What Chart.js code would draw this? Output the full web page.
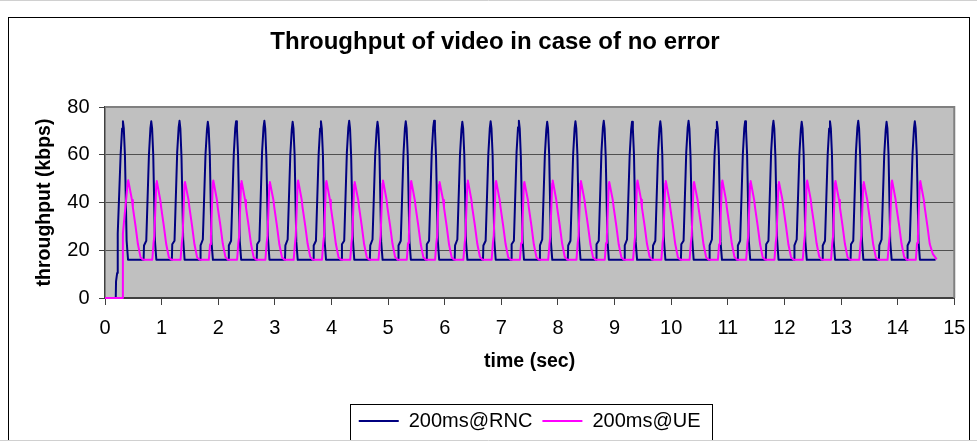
<!DOCTYPE html>
<html>
<head>
<meta charset="utf-8">
<script src="https://cdn.jsdelivr.net/npm/chart.js@4.4.1/dist/chart.umd.min.js"></script>
<style>
  html, body { margin: 0; padding: 0; background: #fff; overflow: hidden; }
  #wrap { width: 977px; height: 441px; overflow: hidden; position: relative; }
  canvas { display: block; }
</style>
</head>
<body>
<div id="wrap"><canvas id="c" width="977" height="470"></canvas></div>
<script>
const chartTitle = 'Throughput of video in case of no error';
const xTitle = 'time (sec)';
const yTitle = 'throughput (kbps)';
const seriesNames = ['200ms@RNC', '200ms@UE'];
const xTicks = { min: 0, max: 15, step: 1 };
const yTicks = { min: 0, max: 80, step: 20 };

// 200ms@RNC : time (s)
const rncTime = [
  0, 0.19, 0.195, 0.215, 0.225, 0.276, 0.302, 0.317, 0.332, 0.352, 0.382, 0.407,
  0.682, 0.689, 0.729, 0.776, 0.802, 0.817, 0.832, 0.852, 0.882, 0.907,
  1.181, 1.188, 1.228, 1.275, 1.301, 1.316, 1.331, 1.351, 1.381, 1.406,
  1.681, 1.688, 1.728, 1.775, 1.801, 1.816, 1.831, 1.851, 1.881, 1.906,
  2.18, 2.187, 2.227, 2.274, 2.3, 2.315, 2.33, 2.35, 2.38, 2.405,
  2.68, 2.687, 2.727, 2.774, 2.8, 2.815, 2.83, 2.85, 2.88, 2.905,
  3.179, 3.186, 3.226, 3.273, 3.299, 3.314, 3.329, 3.349, 3.379, 3.404,
  3.679, 3.686, 3.726, 3.773, 3.799, 3.814, 3.829, 3.849, 3.879, 3.904,
  4.178, 4.185, 4.225, 4.272, 4.298, 4.313, 4.328, 4.348, 4.378, 4.403,
  4.678, 4.685, 4.725, 4.772, 4.798, 4.813, 4.828, 4.848, 4.878, 4.903,
  5.177, 5.184, 5.224, 5.271, 5.297, 5.312, 5.327, 5.347, 5.377, 5.402,
  5.677, 5.684, 5.724, 5.771, 5.797, 5.812, 5.827, 5.847, 5.877, 5.902,
  6.176, 6.183, 6.223, 6.27, 6.296, 6.311, 6.326, 6.346, 6.376, 6.401,
  6.676, 6.683, 6.723, 6.77, 6.796, 6.811, 6.826, 6.846, 6.876, 6.901,
  7.175, 7.182, 7.222, 7.269, 7.295, 7.31, 7.325, 7.345, 7.375, 7.4,
  7.675, 7.682, 7.722, 7.769, 7.795, 7.81, 7.825, 7.845, 7.875, 7.9,
  8.174, 8.181, 8.221, 8.268, 8.294, 8.309, 8.324, 8.344, 8.374, 8.399,
  8.674, 8.681, 8.721, 8.768, 8.794, 8.809, 8.824, 8.844, 8.874, 8.899,
  9.173, 9.18, 9.22, 9.267, 9.293, 9.308, 9.323, 9.343, 9.373, 9.398,
  9.673, 9.68, 9.72, 9.767, 9.793, 9.808, 9.823, 9.843, 9.873, 9.898,
  10.172, 10.179, 10.219, 10.266, 10.292, 10.307, 10.322, 10.342, 10.372, 10.397,
  10.672, 10.679, 10.719, 10.766, 10.792, 10.807, 10.822, 10.842, 10.872, 10.897,
  11.171, 11.178, 11.218, 11.265, 11.291, 11.306, 11.321, 11.341, 11.371, 11.396,
  11.671, 11.678, 11.718, 11.765, 11.791, 11.806, 11.821, 11.841, 11.871, 11.896,
  12.17, 12.177, 12.217, 12.264, 12.29, 12.305, 12.32, 12.34, 12.37, 12.395,
  12.67, 12.677, 12.717, 12.764, 12.79, 12.805, 12.82, 12.84, 12.87, 12.895,
  13.169, 13.176, 13.216, 13.263, 13.289, 13.304, 13.319, 13.339, 13.369, 13.394,
  13.669, 13.676, 13.716, 13.763, 13.789, 13.804, 13.819, 13.839, 13.869, 13.894,
  14.168, 14.175, 14.215, 14.262, 14.288, 14.303, 14.318, 14.338, 14.368, 14.393,
  14.67
];
// 200ms@RNC : throughput (kbps)
const rncValue = [
  0, 0, 7, 10.5, 27, 60, 71, 74, 71, 60, 24, 16,
  16, 22, 24, 60, 71, 74, 71, 60, 24, 16,
  16, 22.5, 24, 61, 71.5, 74.2, 71, 59, 24.5, 16,
  16, 22, 24.5, 60, 70.5, 73.8, 71, 60, 23.5, 16,
  16, 22, 24, 60, 71, 74, 71, 60, 24, 16,
  16, 22.5, 24, 61, 71.5, 74.2, 71, 59, 24.5, 16,
  16, 22, 24.5, 60, 70.5, 73.8, 71, 60, 23.5, 16,
  16, 22, 24, 60, 71, 74, 71, 60, 24, 16,
  16, 22.5, 24, 61, 71.5, 74.2, 71, 59, 24.5, 16,
  16, 22, 24.5, 60, 70.5, 73.8, 71, 60, 23.5, 16,
  16, 22, 24, 60, 71, 74, 71, 60, 24, 16,
  16, 22.5, 24, 61, 71.5, 74.2, 71, 59, 24.5, 16,
  16, 22, 24.5, 60, 70.5, 73.8, 71, 60, 23.5, 16,
  16, 22, 24, 60, 71, 74, 71, 60, 24, 16,
  16, 22.5, 24, 61, 71.5, 74.2, 71, 59, 24.5, 16,
  16, 22, 24.5, 60, 70.5, 73.8, 71, 60, 23.5, 16,
  16, 22, 24, 60, 71, 74, 71, 60, 24, 16,
  16, 22.5, 24, 61, 71.5, 74.2, 71, 59, 24.5, 16,
  16, 22, 24.5, 60, 70.5, 73.8, 71, 60, 23.5, 16,
  16, 22, 24, 60, 71, 74, 71, 60, 24, 16,
  16, 22.5, 24, 61, 71.5, 74.2, 71, 59, 24.5, 16,
  16, 22, 24.5, 60, 70.5, 73.8, 71, 60, 23.5, 16,
  16, 22, 24, 60, 71, 74, 71, 60, 24, 16,
  16, 22.5, 24, 61, 71.5, 74.2, 71, 59, 24.5, 16,
  16, 22, 24.5, 60, 70.5, 73.8, 71, 60, 23.5, 16,
  16, 22, 24, 60, 71, 74, 71, 60, 24, 16,
  16, 22.5, 24, 61, 71.5, 74.2, 71, 59, 24.5, 16,
  16, 22, 24.5, 60, 70.5, 73.8, 71, 60, 23.5, 16,
  16, 22, 24, 60, 71, 74, 71, 60, 24, 16,
  16
];

// 200ms@UE : time (s)
const ueTime = [
  0, 0.31, 0.316, 0.4, 0.41, 0.477, 0.492, 0.54, 0.581, 0.628, 0.674,
  0.835, 0.857, 0.872, 0.905, 0.914, 0.977, 0.992, 1.04, 1.081, 1.128, 1.174,
  1.334, 1.356, 1.371, 1.404, 1.413, 1.476, 1.491, 1.539, 1.58, 1.627, 1.673,
  1.834, 1.856, 1.871, 1.904, 1.913, 1.976, 1.991, 2.039, 2.08, 2.127, 2.173,
  2.333, 2.355, 2.37, 2.403, 2.412, 2.475, 2.49, 2.538, 2.579, 2.626, 2.672,
  2.833, 2.855, 2.87, 2.903, 2.912, 2.975, 2.99, 3.038, 3.079, 3.126, 3.172,
  3.332, 3.354, 3.369, 3.402, 3.411, 3.474, 3.489, 3.537, 3.578, 3.625, 3.671,
  3.832, 3.854, 3.869, 3.902, 3.911, 3.974, 3.989, 4.037, 4.078, 4.125, 4.171,
  4.331, 4.353, 4.368, 4.401, 4.41, 4.473, 4.488, 4.536, 4.577, 4.624, 4.67,
  4.831, 4.853, 4.868, 4.901, 4.91, 4.973, 4.988, 5.036, 5.077, 5.124, 5.17,
  5.33, 5.352, 5.367, 5.4, 5.409, 5.472, 5.487, 5.535, 5.576, 5.623, 5.669,
  5.83, 5.852, 5.867, 5.9, 5.909, 5.972, 5.987, 6.035, 6.076, 6.123, 6.169,
  6.329, 6.351, 6.366, 6.399, 6.408, 6.471, 6.486, 6.534, 6.575, 6.622, 6.668,
  6.829, 6.851, 6.866, 6.899, 6.908, 6.971, 6.986, 7.034, 7.075, 7.122, 7.168,
  7.328, 7.35, 7.365, 7.398, 7.407, 7.47, 7.485, 7.533, 7.574, 7.621, 7.667,
  7.828, 7.85, 7.865, 7.898, 7.907, 7.97, 7.985, 8.033, 8.074, 8.121, 8.167,
  8.327, 8.349, 8.364, 8.397, 8.406, 8.469, 8.484, 8.532, 8.573, 8.62, 8.666,
  8.827, 8.849, 8.864, 8.897, 8.906, 8.969, 8.984, 9.032, 9.073, 9.12, 9.166,
  9.326, 9.348, 9.363, 9.396, 9.405, 9.468, 9.483, 9.531, 9.572, 9.619, 9.665,
  9.826, 9.848, 9.863, 9.896, 9.905, 9.968, 9.983, 10.031, 10.072, 10.119, 10.165,
  10.325, 10.347, 10.362, 10.395, 10.404, 10.467, 10.482, 10.53, 10.571, 10.618, 10.664,
  10.825, 10.847, 10.862, 10.895, 10.904, 10.967, 10.982, 11.03, 11.071, 11.118, 11.164,
  11.324, 11.346, 11.361, 11.394, 11.403, 11.466, 11.481, 11.529, 11.57, 11.617, 11.663,
  11.824, 11.846, 11.861, 11.894, 11.903, 11.966, 11.981, 12.029, 12.07, 12.117, 12.163,
  12.323, 12.345, 12.36, 12.393, 12.402, 12.465, 12.48, 12.528, 12.569, 12.616, 12.662,
  12.823, 12.845, 12.86, 12.893, 12.902, 12.965, 12.98, 13.028, 13.069, 13.116, 13.162,
  13.322, 13.344, 13.359, 13.392, 13.401, 13.464, 13.479, 13.527, 13.568, 13.615, 13.661,
  13.822, 13.844, 13.859, 13.892, 13.901, 13.964, 13.979, 14.027, 14.068, 14.115, 14.161,
  14.321, 14.343, 14.358, 14.391, 14.4, 14.463, 14.478, 14.526, 14.567, 14.62, 14.69
];
// 200ms@UE : throughput (kbps)
const ueValue = [
  0, 0, 27, 48, 49.3, 41, 38, 30, 22.6, 17, 16,
  16, 23, 26, 48, 49, 41, 38, 30, 22.6, 17, 16,
  16, 23, 26, 47.5, 48.6, 41, 38, 30, 22.5, 17, 16,
  16, 22.5, 26, 48, 49.2, 41.2, 38, 30.2, 22.8, 17.2, 16,
  16, 23, 26, 48, 49, 41, 38, 30, 22.6, 17, 16,
  16, 23, 26, 47.5, 48.6, 41, 38, 30, 22.5, 17, 16,
  16, 22.5, 26, 48, 49.2, 41.2, 38, 30.2, 22.8, 17.2, 16,
  16, 23, 26, 48, 49, 41, 38, 30, 22.6, 17, 16,
  16, 23, 26, 47.5, 48.6, 41, 38, 30, 22.5, 17, 16,
  16, 22.5, 26, 48, 49.2, 41.2, 38, 30.2, 22.8, 17.2, 16,
  16, 23, 26, 48, 49, 41, 38, 30, 22.6, 17, 16,
  16, 23, 26, 47.5, 48.6, 41, 38, 30, 22.5, 17, 16,
  16, 22.5, 26, 48, 49.2, 41.2, 38, 30.2, 22.8, 17.2, 16,
  16, 23, 26, 48, 49, 41, 38, 30, 22.6, 17, 16,
  16, 23, 26, 47.5, 48.6, 41, 38, 30, 22.5, 17, 16,
  16, 22.5, 26, 48, 49.2, 41.2, 38, 30.2, 22.8, 17.2, 16,
  16, 23, 26, 48, 49, 41, 38, 30, 22.6, 17, 16,
  16, 23, 26, 47.5, 48.6, 41, 38, 30, 22.5, 17, 16,
  16, 22.5, 26, 48, 49.2, 41.2, 38, 30.2, 22.8, 17.2, 16,
  16, 23, 26, 48, 49, 41, 38, 30, 22.6, 17, 16,
  16, 23, 26, 47.5, 48.6, 41, 38, 30, 22.5, 17, 16,
  16, 22.5, 26, 48, 49.2, 41.2, 38, 30.2, 22.8, 17.2, 16,
  16, 23, 26, 48, 49, 41, 38, 30, 22.6, 17, 16,
  16, 23, 26, 47.5, 48.6, 41, 38, 30, 22.5, 17, 16,
  16, 22.5, 26, 48, 49.2, 41.2, 38, 30.2, 22.8, 17.2, 16,
  16, 23, 26, 48, 49, 41, 38, 30, 22.6, 17, 16,
  16, 23, 26, 47.5, 48.6, 41, 38, 30, 22.5, 17, 16,
  16, 22.5, 26, 48, 49.2, 41.2, 38, 30.2, 22.8, 17.2, 16,
  16, 23, 26, 48, 49, 41, 38, 30, 22.6, 18.5, 16.2
];

const FONT = "'Liberation Sans', Arial, Helvetica, sans-serif";

function pairs(ts, vs) {
  const n = Math.min(ts.length, vs.length);
  const out = [];
  for (let i = 0; i < n; i++) out.push({ x: ts[i], y: vs[i] });
  return out;
}

const framePlugin = {
  id: 'frame',
  afterLayout(chart) {
    const lg = chart.legend, a = chart.chartArea;
    if (!lg) return;
    const dx = (a.left + a.right) / 2 - (lg.left + lg.right) / 2;
    lg.left += dx; lg.right += dx;
  },
  beforeDraw(chart) {
    const { ctx, chartArea: a } = chart;
    ctx.save();
    ctx.fillStyle = '#ffffff';
    ctx.fillRect(0, 0, chart.width, chart.height);
    ctx.fillStyle = '#c0c0c0';
    ctx.fillRect(a.left, a.top, a.right - a.left, a.bottom - a.top);
    ctx.strokeStyle = '#000000';
    ctx.lineWidth = 1;
    ctx.strokeRect(8.5, 17.5, 961, 460);
    ctx.restore();
  },
  afterDatasetsDraw(chart) {
    const { ctx, chartArea: a } = chart;
    ctx.save();
    ctx.strokeStyle = '#808080';
    ctx.lineWidth = 2;
    ctx.beginPath();
    ctx.moveTo(a.left, a.top);
    ctx.lineTo(a.right, a.top);
    ctx.lineTo(a.right, a.bottom);
    ctx.stroke();
    ctx.restore();
  },
  afterDraw(chart) {
    const { ctx } = chart;
    const lg = chart.legend;
    ctx.save();
    if (lg && lg.legendHitBoxes && lg.legendHitBoxes.length) {
      const hb = lg.legendHitBoxes;
      const last = hb[hb.length - 1];
      const x0 = Math.round(hb[0].left - 9) + 0.5;
      const x1 = Math.round(last.left + last.width + 11) + 0.5;
      ctx.strokeStyle = '#000000';
      ctx.lineWidth = 1;
      ctx.strokeRect(x0, 404.5, x1 - x0, 44);
    }
    ctx.strokeStyle = '#d0d0d0';
    ctx.lineWidth = 1;
    ctx.beginPath();
    ctx.moveTo(0, 0.5); ctx.lineTo(chart.width, 0.5);
    ctx.moveTo(0, 440.5); ctx.lineTo(chart.width, 440.5);
    ctx.stroke();
    ctx.restore();
  }
};

new Chart(document.getElementById('c'), {
  type: 'line',
  data: {
    datasets: [
      {
        label: seriesNames[0],
        data: pairs(rncTime, rncValue),
        borderColor: '#000080',
        backgroundColor: '#000080',
        borderWidth: 2,
        pointRadius: 0,
        tension: 0,
        fill: false,
        clip: 4,
        borderJoinStyle: 'round',
        order: 2
      },
      {
        label: seriesNames[1],
        data: pairs(ueTime, ueValue),
        borderColor: '#ff00ff',
        backgroundColor: '#ff00ff',
        borderWidth: 2,
        pointRadius: 0,
        tension: 0,
        fill: false,
        clip: 4,
        borderJoinStyle: 'round',
        order: 1
      }
    ]
  },
  options: {
    responsive: false,
    animation: false,
    devicePixelRatio: 1,
    events: [],
    layout: { padding: { left: 33, right: 20, top: 0, bottom: 29 } },
    plugins: {
      title: {
        display: true,
        text: chartTitle,
        color: '#000',
        font: { family: FONT, size: 24, weight: 'bold', lineHeight: 1.2 },
        padding: { top: 27.6, bottom: 50.6 }
      },
      legend: {
        display: true,
        position: 'bottom',
        labels: {
          color: '#000',
          font: { family: FONT, size: 20 },
          usePointStyle: true,
          pointStyle: 'line',
          pointStyleWidth: 40,
          padding: 10,
          sort: (a, b) => a.datasetIndex - b.datasetIndex
        }
      },
      tooltip: { enabled: false }
    },
    scales: {
      x: {
        type: 'linear',
        min: xTicks.min,
        max: xTicks.max,
        afterFit: (s) => { s.height = 103; },
        ticks: {
          stepSize: xTicks.step,
          color: '#000',
          font: { family: FONT, size: 20 },
          padding: 11.6,
          maxRotation: 0,
          autoSkip: false
        },
        grid: { drawOnChartArea: false, drawTicks: true, tickLength: 7, tickColor: '#404040', tickWidth: 1 },
        border: { display: true, color: '#404040', width: 2 },
        title: {
          display: true,
          text: xTitle,
          color: '#000',
          font: { family: FONT, size: 19.5, weight: 'bold', lineHeight: 1.2 },
          padding: { top: 0, bottom: 27.3 }
        }
      },
      y: {
        type: 'linear',
        min: yTicks.min,
        max: yTicks.max,
        afterFit: (s) => { s.width = 72; },
        ticks: {
          stepSize: yTicks.step,
          color: '#000',
          font: { family: FONT, size: 20 },
          padding: 9.5
        },
        grid: { color: '#505050', lineWidth: 1, drawTicks: true, tickLength: 6, tickColor: '#404040' },
        border: { display: true, color: '#404040', width: 1.5 },
        title: {
          display: true,
          text: yTitle,
          color: '#000',
          font: { family: FONT, size: 19.5, weight: 'bold', lineHeight: 1.2 },
          padding: { top: 0.3, bottom: 0 }
        }
      }
    }
  },
  plugins: [framePlugin]
});
</script>
</body>
</html>
